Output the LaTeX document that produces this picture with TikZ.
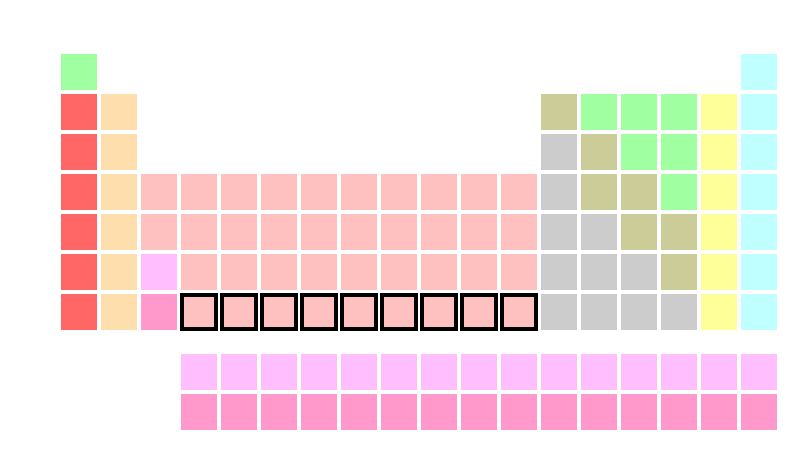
\documentclass[tikz,border=0pt]{standalone}
\usepackage{tikz}
\usetikzlibrary{positioning}

\definecolor{alkalicol}{HTML}{FF6666}
\definecolor{earthcol}{HTML}{FFDEAD}
\definecolor{transcol}{HTML}{FFC0C0}
\definecolor{lanthcol}{HTML}{FFBFFF}
\definecolor{actincol}{HTML}{FF99CC}
\definecolor{poorcol}{HTML}{CCCCCC}
\definecolor{semicol}{HTML}{CCCC99}
\definecolor{nonmetcol}{HTML}{A0FFA0}
\definecolor{halocol}{HTML}{FFFF99}
\definecolor{noblecol}{HTML}{C0FFFF}

\tikzset{
  cell/.style={minimum size=0.9cm,inner sep=0pt,outer sep=0pt},
  alkali/.style={cell,fill=alkalicol},
  earth/.style={cell,fill=earthcol},
  trans/.style={cell,fill=transcol},
  lanth/.style={cell,fill=lanthcol},
  actin/.style={cell,fill=actincol},
  poor/.style={cell,fill=poorcol},
  semi/.style={cell,fill=semicol},
  nonmet/.style={cell,fill=nonmetcol},
  halo/.style={cell,fill=halocol},
  noble/.style={cell,fill=noblecol},
  marked/.style={draw=black,line width=2.6pt,minimum size=0.86cm}
}

\begin{document}
\begin{tikzpicture}[x=1cm,y=1cm]
  \useasboundingbox (0,0) rectangle (20,-11.25);
  % period 1
  \node[nonmet] (e-1-1)  at (1.975,-1.8) {};
  \node[noble]  (e-1-18) at (18.975,-1.8) {};
  % s-block
  \foreach \r in {2,...,7} {
    \node[alkali] (e-\r-1) at (1.975,{-\r-0.8}) {};
    \node[earth]  (e-\r-2) at (2.975,{-\r-0.8}) {};
  }
  % group 3
  \node[trans] (e-4-3) at (3.975,-4.8) {};
  \node[trans] (e-5-3) at (3.975,-5.8) {};
  \node[lanth] (e-6-3) at (3.975,-6.8) {};
  \node[actin] (e-7-3) at (3.975,-7.8) {};
  % d-block
  \foreach \r in {4,5,6}
    \foreach \c in {4,...,12}
      \node[trans] (e-\r-\c) at ({\c+0.975},{-\r-0.8}) {};
  \foreach \c in {4,...,12}
    \node[trans,marked] (e-7-\c) at ({\c+0.975},-7.8) {};
  % p-block
  \foreach \r/\kinds in {2/{semi,nonmet,nonmet,nonmet,halo,noble},
                         3/{poor,semi,nonmet,nonmet,halo,noble},
                         4/{poor,semi,semi,nonmet,halo,noble},
                         5/{poor,poor,semi,semi,halo,noble},
                         6/{poor,poor,poor,semi,halo,noble},
                         7/{poor,poor,poor,poor,halo,noble}}
    \foreach \kind [count=\c from 13] in \kinds
      \node[\kind] (e-\r-\c) at ({\c+0.975},{-\r-0.8}) {};
  % f-block
  \foreach \c in {4,...,18} {
    \node[lanth] (ln-\c) at ({\c+0.975},-9.3) {};
    \node[actin] (an-\c) at ({\c+0.975},-10.3) {};
  }
\end{tikzpicture}
\end{document}
